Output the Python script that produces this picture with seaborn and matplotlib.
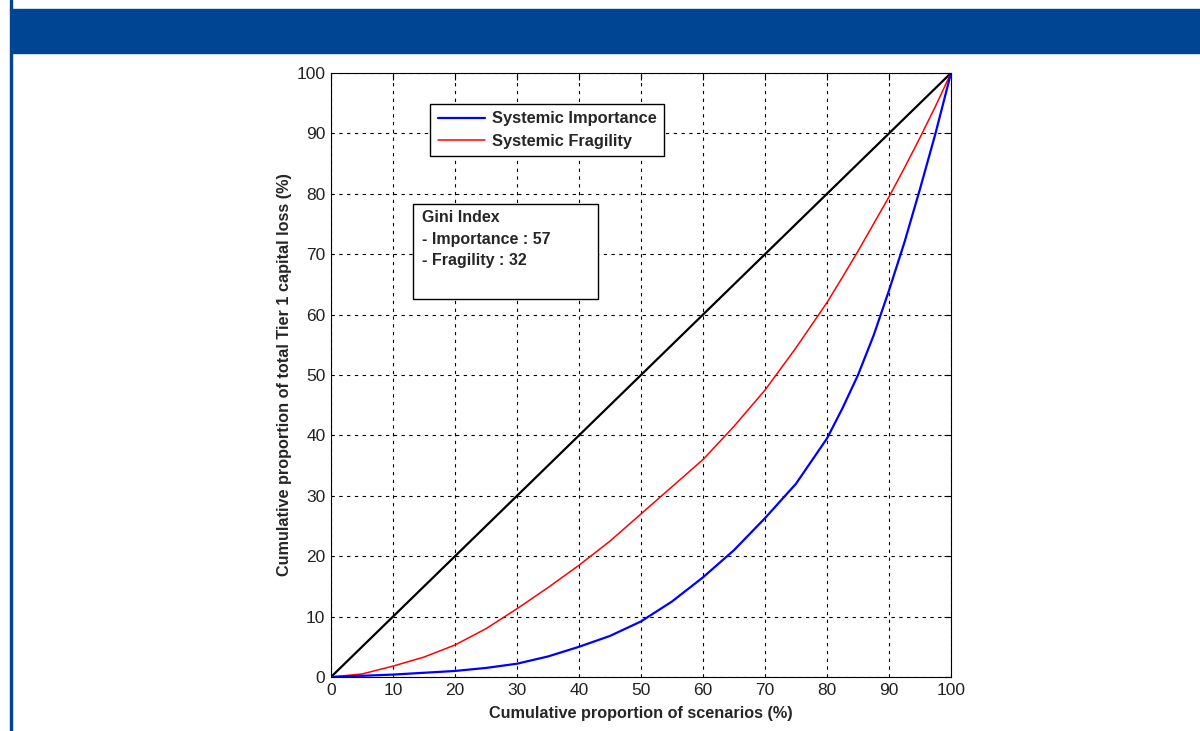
import numpy as np
import pandas as pd
import matplotlib
matplotlib.use('Agg')
import matplotlib.pyplot as plt
import seaborn as sns
from matplotlib.patches import Rectangle

sns.set_style('white')
plt.rcParams['font.family'] = ['Liberation Sans', 'DejaVu Sans']

# 누적 시나리오 비율 (%)
scenarios = [0, 5, 10, 15, 20, 25, 30, 35, 40, 45, 50, 55, 60, 65, 70, 75, 80, 82.5, 85, 87.5, 90, 92.5, 95, 97.5, 100]
importance = [0, 0.2, 0.4, 0.7, 1.0, 1.5, 2.2, 3.4, 5.0, 6.8, 9.2, 12.5, 16.5, 21.0, 26.3, 32.0, 39.5, 44.5, 50.0, 56.5, 64.0, 72.0, 80.8, 90.0, 100]
fragility = [0, 0.5, 1.8, 3.3, 5.3, 8.0, 11.3, 14.8, 18.5, 22.5, 27.0, 31.5, 36.0, 41.5, 47.5, 54.5, 62.0, 66.2, 70.5, 75.0, 79.5, 84.3, 89.3, 94.5, 100]
equality = [0, 100]
ticks = [0, 10, 20, 30, 40, 50, 60, 70, 80, 90, 100]

df = pd.DataFrame({'x': scenarios, 'imp': importance, 'frag': fragility})
eq = pd.DataFrame({'x': equality, 'y': equality})

fig = plt.figure(figsize=(12, 7.31), dpi=100)

# 상단 파란 배너 + 왼쪽 세로선
fig.patches.append(Rectangle((11 / 1200, 1 - 53 / 731), 1, 44 / 731,
                             transform=fig.transFigure, color='#004494', zorder=0))
fig.patches.append(Rectangle((9.5 / 1200, 0), 2.5 / 1200, 1,
                             transform=fig.transFigure, color='#004494', zorder=0))

ax = fig.add_axes([331 / 1200, 54 / 731, 620 / 1200, 604 / 731])
sns.lineplot(data=eq, x='x', y='y', color='black', lw=1.6, ax=ax, legend=False)
sns.lineplot(data=df, x='x', y='frag', color='red', lw=1.1, ax=ax, label='Systemic Fragility')
sns.lineplot(data=df, x='x', y='imp', color='blue', lw=1.6, ax=ax, label='Systemic Importance')

ax.set_xlim(0, 100)
ax.set_ylim(0, 100)
ax.set_xticks(ticks)
ax.set_yticks(ticks)
ax.tick_params(direction='in', top=True, right=True, length=5, labelsize=12.5,
               color='black', width=0.8, labelcolor='#222222', pad=4)
ax.grid(True, color='black', linestyle=(0, (3, 4)), lw=0.8)
for s in ax.spines.values():
    s.set_color('black')
    s.set_linewidth(0.8)
ax.set_xlabel('Cumulative proportion of scenarios (%)', fontsize=11.7, fontweight='bold', labelpad=6)
ax.set_ylabel('Cumulative proportion of total Tier 1 capital loss (%)', fontsize=11.7, fontweight='bold', labelpad=3)

h, l = ax.get_legend_handles_labels()
leg = ax.legend(h[::-1], l[::-1], loc='upper left', bbox_to_anchor=(0.16, 0.9487),
                fancybox=False, framealpha=1, edgecolor='black', handlelength=2.9,
                borderaxespad=0, prop={'weight': 'bold', 'size': 11.8},
                borderpad=0.45, labelspacing=0.45, handletextpad=0.4)
leg.get_frame().set_linewidth(1)

# Gini 지수 박스
ax.add_patch(Rectangle((0.1323, 0.6258), 0.2984, 0.1573, transform=ax.transAxes,
                       fc='white', ec='black', lw=1, zorder=5))
ax.text(0.1468, 0.773, 'Gini Index\n- Importance : 57\n- Fragility : 32',
        transform=ax.transAxes, fontsize=11.5, fontweight='bold', va='top', ha='left',
        linespacing=1.55, zorder=6)

fig.savefig('out.png', dpi=100)
